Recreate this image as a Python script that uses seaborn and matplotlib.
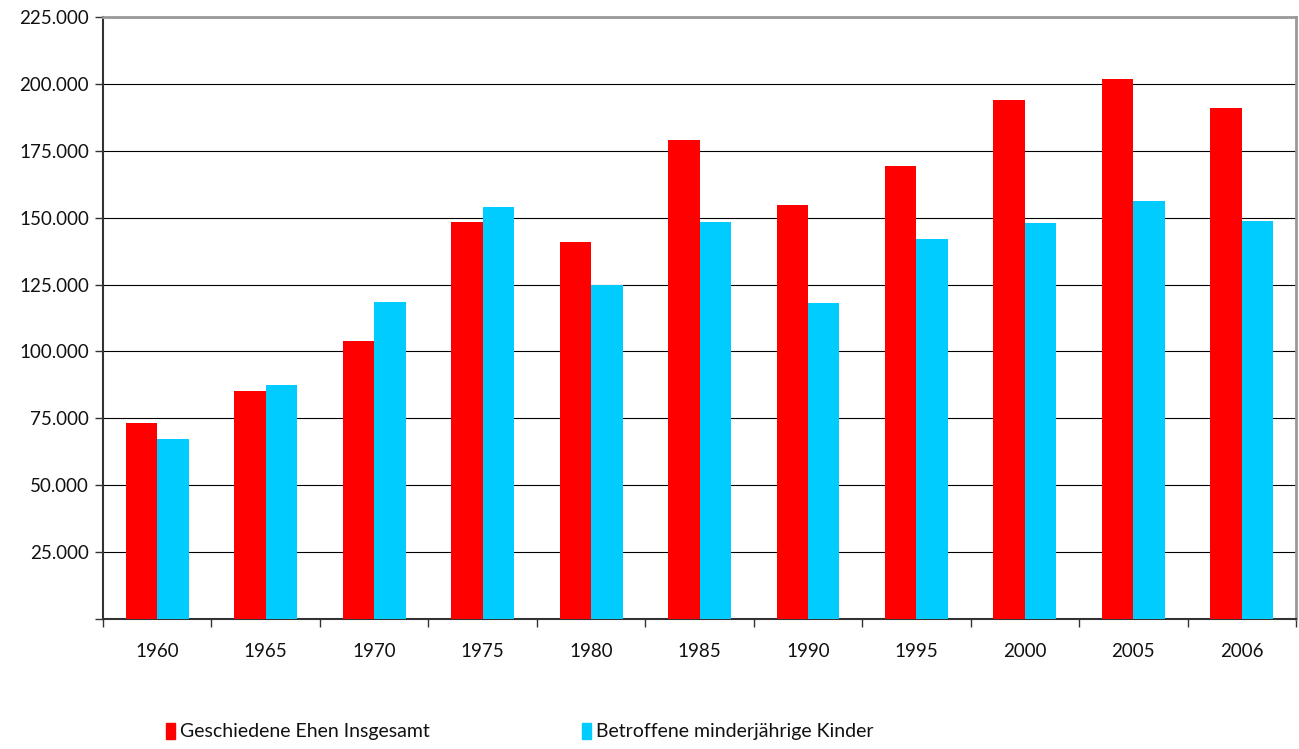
import pandas as pd
import numpy as np
import matplotlib.pyplot as plt
import matplotlib.ticker as mticker
import seaborn as sns

# Daten
jahre = ['1960', '1965', '1970', '1975', '1980', '1985', '1990', '1995', '2000', '2005', '2006']
ehen = [73300, 85200, 103900, 148400, 140900, 179000, 154800, 169300, 194000, 201700, 190900]
kinder = [67300, 87500, 118500, 154000, 124900, 148400, 118100, 142000, 148100, 156300, 148600]
serien = ['Geschiedene Ehen Insgesamt', 'Betroffene minderjährige Kinder']
farben = ['#ff0000', '#00ccff']

df = pd.DataFrame({
    'Jahr': jahre * 2,
    'Wert': ehen + kinder,
    'Serie': [serien[0]] * len(jahre) + [serien[1]] * len(jahre),
})

sns.set_style('white')
plt.rcParams['font.family'] = ['Lato', 'DejaVu Sans']

fig = plt.figure(figsize=(12.99, 7.49), dpi=100)
ax = fig.add_axes([0.0793, 0.1736, 0.9184, 0.8037])

sns.barplot(data=df, x='Jahr', y='Wert', hue='Serie', palette=farben,
            width=0.58, saturation=1, linewidth=0, ax=ax, zorder=3)

# Achsen
ax.set_ylim(0, 225000)
ax.set_xlim(-0.5, len(jahre) - 0.5)
ax.yaxis.set_major_locator(mticker.MultipleLocator(25000))
ax.yaxis.set_major_formatter(mticker.FuncFormatter(
    lambda v, p: '' if v == 0 else f'{int(v):,}'.replace(',', '.')))
ax.grid(axis='y', color='black', linewidth=0.8, zorder=0)
ax.set_xlabel('')
ax.set_ylabel('')

ax.tick_params(axis='y', which='major', length=6, width=1, color='#333333',
               labelsize=13.5, pad=4, left=True, labelcolor='#111111')
ax.tick_params(axis='x', which='major', length=0, labelsize=13.5, pad=17,
               labelcolor='#111111')
ax.set_xticks(np.arange(-0.5, len(jahre)), minor=True)
ax.tick_params(axis='x', which='minor', length=6, width=1, color='#333333', bottom=True)

for s in ['left', 'bottom']:
    ax.spines[s].set_color('#333333')
    ax.spines[s].set_linewidth(1.5)
for s in ['top', 'right']:
    ax.spines[s].set_color('#999999')
    ax.spines[s].set_linewidth(2)

# Legende unten
ax.legend_.remove()
handles = [plt.Rectangle((0, 0), 1, 1, color=c) for c in farben]
fig.legend(handles, serien, loc='lower left', bbox_to_anchor=(0.114, -0.012),
           ncol=2, frameon=False, fontsize=14, handlelength=0.5,
           handleheight=0.9, handletextpad=0.25, columnspacing=7.8,
           labelcolor='#111111')

fig.savefig('out.png', dpi=100)
